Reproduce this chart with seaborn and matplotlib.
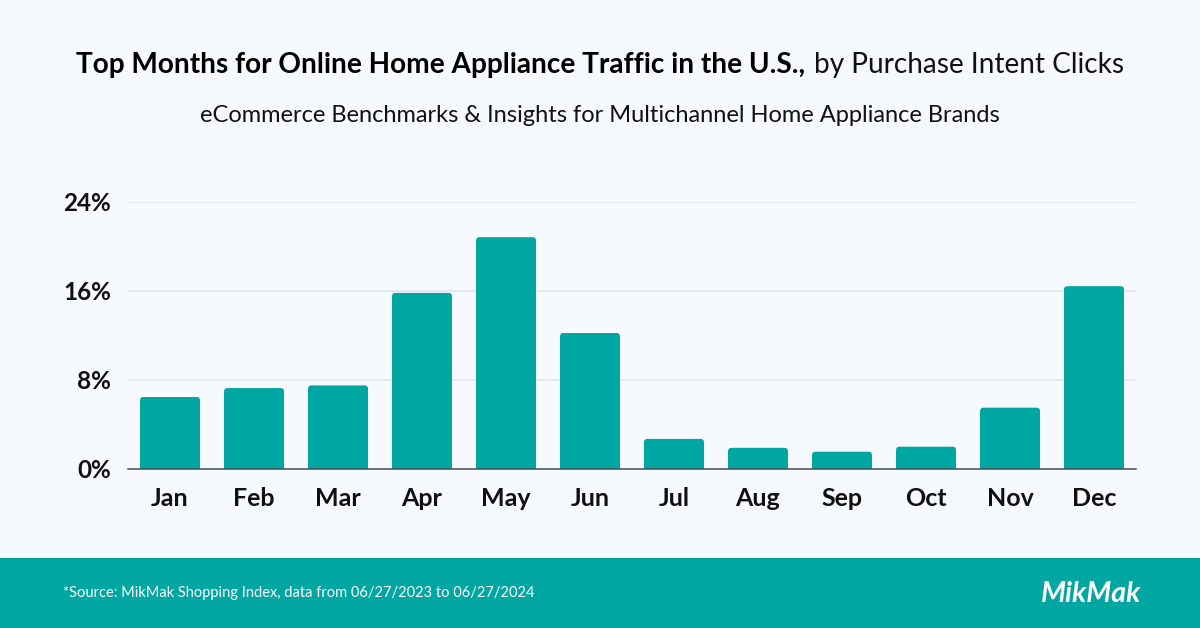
import matplotlib
matplotlib.use('Agg')
import matplotlib.pyplot as plt
from matplotlib.patches import FancyBboxPatch, Rectangle
import pandas as pd
import seaborn as sns

months = ['Jan', 'Feb', 'Mar', 'Apr', 'May', 'Jun', 'Jul', 'Aug', 'Sep', 'Oct', 'Nov', 'Dec']
share = [6.46, 7.26, 7.5, 15.8, 20.8, 12.2, 2.7, 1.9, 1.55, 2.0, 5.5, 16.4]
y_ticks = [0, 8, 16, 24]
y_labels = ['0%', '8%', '16%', '24%']

TEAL = '#00A6A2'
BG = '#F6FAFE'
W, H = 1200, 628

sns.set_theme(style='white')
plt.rcParams['font.family'] = ['Lato', 'DejaVu Sans']

df = pd.DataFrame({'month': months, 'share': share})

fig = plt.figure(figsize=(W / 100, H / 100), dpi=100, facecolor=BG)
ax = fig.add_axes([128 / W, 1 - 469 / H, (1136 - 128) / W, (469 - 201.5) / H], facecolor=BG)

sns.barplot(data=df, x='month', y='share', color=TEAL, saturation=1, width=0.714, ax=ax, zorder=3)

ax.set_xlim(-0.5, 11.5)
ax.set_ylim(0, 24)

# seaborn gives square bars, swap them for slightly rounded ones
# the box starts below zero so the axes clip away the lower corners
px_x = 1008 / 12
px_y = 267.5 / 24
r = 3.5 / px_x
for bar in list(ax.patches):
    x, w, h = bar.get_x(), bar.get_width(), bar.get_height()
    rounded = FancyBboxPatch((x, -1), w, h + 1, boxstyle=f'round,pad=0,rounding_size={r}',
                             mutation_aspect=px_x / px_y, fc=TEAL, ec='none', zorder=3)
    ax.add_patch(rounded)
    bar.remove()

ax.set_yticks(y_ticks, y_labels)
ax.set_xlabel('')
ax.set_ylabel('')
ax.grid(axis='y', color='#E1E6EA', lw=1.2, zorder=0)
ax.tick_params(axis='both', length=0)
ax.tick_params(axis='x', pad=13, labelsize=18, labelcolor='#111111')
ax.tick_params(axis='y', pad=12, labelsize=17.5, labelcolor='#111111')
for lab in ax.get_xticklabels() + ax.get_yticklabels():
    lab.set_fontweight('bold')
sns.despine(ax=ax, left=True, top=True, right=True)
ax.spines['bottom'].set_color('#4A4F55')
ax.spines['bottom'].set_linewidth(1.1)
ax.spines['bottom'].set_zorder(5)

# title in two weights, placed side by side
renderer = fig.canvas.get_renderer()
t1 = fig.text(76 / W, 1 - 65.5 / H, 'Top Months for Online Home Appliance Traffic in the U.S.,',
              fontsize=20.2, fontweight='bold', color='#000000', va='center', ha='left')
x_end = t1.get_window_extent(renderer).x1
fig.text((x_end + 9) / W, 1 - 65.5 / H, 'by Purchase Intent Clicks',
         fontsize=20.2, color='#111111', va='center', ha='left')
fig.text(600 / W, 1 - 116 / H, 'eCommerce Benchmarks & Insights for Multichannel Home Appliance Brands',
         fontsize=17, color='#111111', va='center', ha='center')

# footer band
fig.add_artist(Rectangle((0, 0), 1, (H - 558) / H, transform=fig.transFigure, fc=TEAL, ec='none', zorder=-1))
fig.text(63 / W, 1 - 593 / H, '*Source: MikMak Shopping Index, data from 06/27/2023 to 06/27/2024',
         fontsize=10.55, color='white', va='center', ha='left')
fig.text(1091 / W, 1 - 594 / H, 'MikMak', fontsize=20.5, fontweight='bold', fontstyle='italic',
         color='white', va='center', ha='center')

fig.savefig('out.png', dpi=100, facecolor=BG)
